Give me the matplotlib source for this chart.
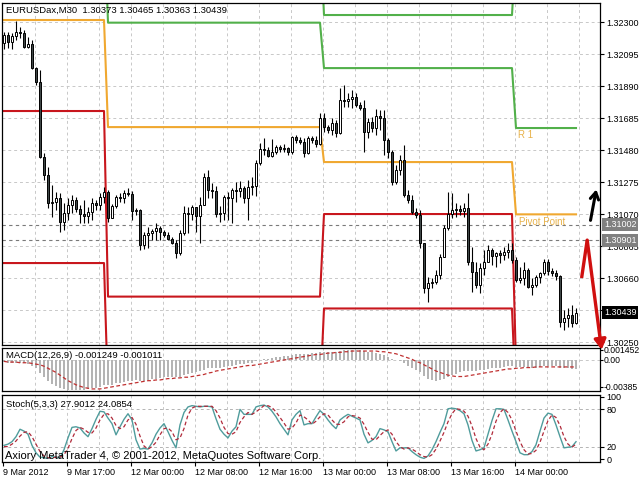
import numpy as np
import matplotlib.pyplot as plt
from matplotlib import transforms

plt.rcParams['font.family'] = ['Liberation Sans', 'DejaVu Sans']

# --- values (EURUSDax M30) ---
title_text = "EURUSDax,M30  1.30373 1.30465 1.30363 1.30439"
macd_text = "MACD(12,26,9) -0.001249 -0.001011"
stoch_text = "Stoch(5,3,3) 27.9012 24.0854"
copyright_text = "Axiory MetaTrader 4, \u00a9 2001-2012, MetaQuotes Software Corp."

first_open = 1.32165
close = [
    1.32217, 1.32172, 1.32210, 1.32236, 1.32230, 1.32140, 1.32159, 1.32005,
    1.31916, 1.31435, 1.31320, 1.31140, 1.31147, 1.31173, 1.31019, 1.31076,
    1.31128, 1.31160, 1.31102, 1.31070, 1.31057, 1.31083, 1.31140, 1.31128,
    1.31179, 1.31211, 1.31044, 1.31121, 1.31179, 1.31173, 1.31205, 1.31200,
    1.31089, 1.31096, 1.30871, 1.30935, 1.30948, 1.30961, 1.30980, 1.30955,
    1.30935, 1.30910, 1.30884, 1.30820, 1.30948, 1.31076, 1.31070, 1.31115,
    1.31057, 1.31128, 1.31307, 1.31224, 1.31220, 1.31070, 1.31076, 1.31179,
    1.31173, 1.31224, 1.31220, 1.31237, 1.31173, 1.31243, 1.31249, 1.31397,
    1.31486, 1.31480, 1.31442, 1.31467, 1.31499, 1.31486, 1.31490, 1.31467,
    1.31563, 1.31544, 1.31531, 1.31461, 1.31557, 1.31544, 1.31518, 1.31685,
    1.31627, 1.31608, 1.31653, 1.31589, 1.31800, 1.31794, 1.31805, 1.31820,
    1.31768, 1.31749, 1.31595, 1.31659, 1.31621, 1.31698, 1.31685, 1.31544,
    1.31467, 1.31275, 1.31352, 1.31416, 1.31192, 1.31160, 1.31083, 1.31064,
    1.30884, 1.30596, 1.30628, 1.30634, 1.30679, 1.30795, 1.30980, 1.31070,
    1.31096, 1.31102, 1.31089, 1.31108, 1.30762, 1.30698, 1.30615, 1.30724,
    1.30762, 1.30839, 1.30801, 1.30820, 1.30807, 1.30827, 1.30839, 1.30775,
    1.30647, 1.30660, 1.30711, 1.30602, 1.30615, 1.30666, 1.30692, 1.30762,
    1.30705, 1.30692, 1.30673, 1.30378, 1.30404, 1.30423, 1.30373, 1.30439,
]
high = [
    1.32236, 1.32236, 1.32230, 1.32306, 1.32268, 1.32249, 1.32204, 1.32185,
    1.32012, 1.31992, 1.31461, 1.31371, 1.31256, 1.31211, 1.31205, 1.31140,
    1.31173, 1.31192, 1.31179, 1.31128, 1.31160, 1.31115, 1.31173, 1.31160,
    1.31205, 1.31243, 1.31224, 1.31134, 1.31192, 1.31205, 1.31224, 1.31237,
    1.31217, 1.31108, 1.31102, 1.30955, 1.30987, 1.30974, 1.31012, 1.30993,
    1.30968, 1.30955, 1.30923, 1.30903, 1.30968, 1.31121, 1.31115, 1.31128,
    1.31115, 1.31179, 1.31333, 1.31352, 1.31269, 1.31249, 1.31121, 1.31192,
    1.31211, 1.31237, 1.31275, 1.31281, 1.31250, 1.31288, 1.31307, 1.31416,
    1.31525, 1.31557, 1.31499, 1.31550, 1.31512, 1.31512, 1.31518, 1.31499,
    1.31570, 1.31576, 1.31563, 1.31557, 1.31570, 1.31570, 1.31570, 1.31717,
    1.31717, 1.31640, 1.31685, 1.31672, 1.31877, 1.31896, 1.31845, 1.31864,
    1.31845, 1.31788, 1.31800, 1.31685, 1.31691, 1.31743, 1.31736, 1.31736,
    1.31557, 1.31480, 1.31384, 1.31448, 1.31512, 1.31224, 1.31192, 1.31108,
    1.31096, 1.30884, 1.30666, 1.30660, 1.30711, 1.30814, 1.31000, 1.31211,
    1.31205, 1.31140, 1.31128, 1.31140, 1.31205, 1.30859, 1.30762, 1.30756,
    1.30839, 1.30871, 1.30852, 1.30827, 1.30839, 1.30859, 1.30884, 1.30884,
    1.30795, 1.30730, 1.30762, 1.30724, 1.30660, 1.30679, 1.30698, 1.30782,
    1.30782, 1.30724, 1.30711, 1.30680, 1.30455, 1.30468, 1.30487, 1.30465,
]
low = [
    1.32127, 1.32133, 1.32127, 1.32185, 1.32198, 1.32133, 1.32133, 1.31999,
    1.31896, 1.31429, 1.31288, 1.31108, 1.31051, 1.31096, 1.30955, 1.30968,
    1.31032, 1.31076, 1.31083, 1.31012, 1.31012, 1.31012, 1.31032, 1.31096,
    1.31096, 1.31140, 1.31019, 1.31044, 1.31108, 1.31147, 1.31140, 1.31185,
    1.31032, 1.31064, 1.30839, 1.30846, 1.30852, 1.30903, 1.30903, 1.30903,
    1.30923, 1.30903, 1.30878, 1.30788, 1.30807, 1.30935, 1.30948, 1.31032,
    1.30955, 1.30884, 1.31128, 1.31173, 1.31173, 1.31051, 1.31019, 1.31032,
    1.31032, 1.31012, 1.31147, 1.31179, 1.31140, 1.31032, 1.31192, 1.31185,
    1.31384, 1.31448, 1.31435, 1.31435, 1.31454, 1.31467, 1.31467, 1.31448,
    1.31454, 1.31525, 1.31518, 1.31435, 1.31455, 1.31525, 1.31499, 1.31512,
    1.31595, 1.31589, 1.31576, 1.31563, 1.31582, 1.31755, 1.31755, 1.31749,
    1.31755, 1.31736, 1.31467, 1.31557, 1.31595, 1.31576, 1.31608, 1.31448,
    1.31429, 1.31256, 1.31262, 1.31320, 1.31179, 1.31140, 1.31070, 1.31044,
    1.30852, 1.30564, 1.30506, 1.30596, 1.30622, 1.30654, 1.30795, 1.30968,
    1.31044, 1.31051, 1.31064, 1.31051, 1.30743, 1.30570, 1.30596, 1.30564,
    1.30679, 1.30762, 1.30743, 1.30730, 1.30756, 1.30775, 1.30788, 1.30756,
    1.30634, 1.30628, 1.30615, 1.30596, 1.30551, 1.30602, 1.30628, 1.30679,
    1.30679, 1.30673, 1.30647, 1.30346, 1.30327, 1.30346, 1.30346, 1.30363,
]

# daily pivot levels (bars per day, then one value per day)
day_bars = [26, 54, 48, 16]
pivot_day = [1.32313, 1.31627, 1.31403, 1.31068]
r1_day = [1.33000, 1.32296, 1.32005, 1.31621]
r2_day = [1.33300, 1.32900, 1.32345, 1.32800]
s1_day = [1.31730, 1.30541, 1.31070, 1.30100]
s2_day = [1.30756, 1.29900, 1.30465, 1.29850]

macd = [
    -0.0003, -0.0004, -0.0004, -0.0004, -0.0004, -0.0005, -0.0006, -0.0009,
    -0.0012, -0.0019, -0.0025, -0.0031, -0.0035, -0.0038, -0.0041, -0.0042,
    -0.0043, -0.0043, -0.0043, -0.0043, -0.0043, -0.0042, -0.0041, -0.0040,
    -0.0039, -0.0037, -0.0037, -0.0036, -0.0034, -0.0033, -0.0032, -0.0031,
    -0.0030, -0.0029, -0.0030, -0.0030, -0.0029, -0.0028, -0.0027, -0.0026,
    -0.0025, -0.0025, -0.0025, -0.0025, -0.0024, -0.0022, -0.0020, -0.0019,
    -0.0018, -0.0016, -0.0014, -0.0012, -0.0011, -0.0011, -0.0011, -0.0010,
    -0.0009, -0.0008, -0.0007, -0.0006, -0.0006, -0.0005, -0.0004, -0.0002,
    0.0000, 0.0001, 0.0002, 0.0003, 0.0004, 0.0005, 0.0006, 0.0006,
    0.0007, 0.0008, 0.0009, 0.0009, 0.0009, 0.0010, 0.0010, 0.0011,
    0.0012, 0.0012, 0.0012, 0.0012, 0.0013, 0.0014, 0.0014, 0.00145,
    0.0014, 0.0014, 0.0013, 0.0012, 0.0011, 0.0010, 0.0009, 0.0007,
    0.0005, 0.0002, 0.0000, -0.0002, -0.0005, -0.0008, -0.0011, -0.0014,
    -0.0018, -0.0023, -0.0027, -0.0029, -0.0030, -0.0029, -0.0027, -0.0024,
    -0.0022, -0.0020, -0.0018, -0.0016, -0.0016, -0.0016, -0.0016, -0.0015,
    -0.0014, -0.0013, -0.0012, -0.0011, -0.0011, -0.0010, -0.0009, -0.0009,
    -0.0010, -0.0010, -0.0010, -0.0011, -0.0011, -0.0011, -0.0010, -0.0009,
    -0.0009, -0.0009, -0.0009, -0.0011, -0.0012, -0.0012, -0.0013, -0.001249,
]
signal = [
    -0.0002, -0.0003, -0.0003, -0.0003, -0.0004, -0.0004, -0.0004, -0.0005,
    -0.0006, -0.0007, -0.0009, -0.0012, -0.0015, -0.0018, -0.0022, -0.0026,
    -0.0030, -0.0033, -0.0036, -0.0038, -0.0040, -0.0041, -0.0042, -0.0042,
    -0.0042, -0.0041, -0.0040, -0.0039, -0.0038, -0.0037, -0.0036, -0.0035,
    -0.0034, -0.0033, -0.0032, -0.0031, -0.0030, -0.0030, -0.0029, -0.0029,
    -0.0028, -0.0027, -0.0027, -0.0026, -0.0026, -0.0025, -0.0025, -0.0024,
    -0.0023, -0.0022, -0.0021, -0.0019, -0.0018, -0.0016, -0.0015, -0.0014,
    -0.0013, -0.0012, -0.0011, -0.0010, -0.0009, -0.0008, -0.0008, -0.0007,
    -0.0006, -0.0005, -0.0004, -0.0003, -0.0002, -0.0001, 0.0000, 0.0001,
    0.0002, 0.0003, 0.0004, 0.0005, 0.0006, 0.0007, 0.0008, 0.0008,
    0.0009, 0.0010, 0.0010, 0.0011, 0.0011, 0.0012, 0.0012, 0.0013,
    0.0013, 0.0013, 0.0013, 0.0013, 0.0013, 0.0013, 0.0012, 0.0012,
    0.0011, 0.0010, 0.0009, 0.0007, 0.0005, 0.0003, 0.0001, -0.0002,
    -0.0004, -0.0007, -0.0010, -0.0013, -0.0016, -0.0018, -0.0020, -0.0022,
    -0.0023, -0.0024, -0.0024, -0.0024, -0.0023, -0.0022, -0.0021, -0.0020,
    -0.0019, -0.0018, -0.0017, -0.0016, -0.0015, -0.0014, -0.0013, -0.0013,
    -0.0012, -0.0012, -0.0011, -0.0011, -0.0011, -0.0010, -0.0010, -0.0010,
    -0.0010, -0.0010, -0.0010, -0.0010, -0.0010, -0.0010, -0.0010, -0.001011,
]
stoch_k = [
    22, 24, 28, 36, 48, 45, 40, 22,
    10, 3, 2, 1, 4, 3, 2, 15,
    34, 51, 52, 50, 42, 36, 49, 64,
    77, 76, 66, 57, 39, 52, 64, 73,
    63, 31, 16, 17, 16, 26, 40, 50,
    57, 44, 30, 18, 55, 75, 84, 86,
    85, 84, 85, 85, 84, 65, 48, 40,
    34, 45, 52, 80, 72, 72, 72, 84,
    86, 87, 84, 77, 68, 57, 48, 39,
    63, 72, 78, 55, 57, 57, 68, 78,
    72, 63, 55, 49, 63, 68, 72, 69,
    66, 63, 40, 26, 30, 36, 49, 47,
    44, 28, 13, 18, 18, 18, 12, 7,
    3, 1, 5, 15, 28, 43, 57, 81,
    82, 81, 78, 73, 55, 30, 13, 15,
    18, 40, 62, 81, 81, 80, 63, 45,
    28, 10, 7, 7, 12, 23, 45, 66,
    74, 72, 55, 36, 18, 19, 20, 27.9012,
]
stoch_d = [
    20, 20, 24, 29, 37, 43, 44, 36,
    24, 12, 5, 2, 2, 3, 3, 7,
    17, 33, 46, 51, 48, 43, 42, 50,
    63, 72, 73, 66, 54, 49, 52, 63,
    67, 56, 37, 21, 16, 20, 27, 39,
    49, 50, 44, 31, 34, 49, 71, 82,
    85, 85, 85, 85, 85, 78, 66, 51,
    41, 40, 44, 59, 68, 75, 72, 76,
    81, 86, 86, 83, 76, 67, 58, 48,
    50, 58, 71, 68, 63, 56, 61, 68,
    73, 71, 63, 56, 56, 60, 68, 70,
    69, 66, 56, 43, 32, 31, 38, 44,
    47, 40, 28, 20, 16, 18, 16, 12,
    7, 4, 3, 7, 16, 29, 43, 60,
    73, 81, 80, 77, 69, 53, 33, 19,
    15, 24, 40, 61, 75, 81, 75, 63,
    45, 28, 15, 8, 9, 14, 27, 45,
    62, 71, 67, 54, 36, 24, 19, 24.0854,
]

price_ticks = [1.32300, 1.32095, 1.31890, 1.31685, 1.31480, 1.31275,
               1.31070, 1.30865, 1.30660, 1.30455, 1.30250]
hidden_price_ticks = [1.30455]   # covered by the last price box
macd_ticks = [0.001452, 0.0, -0.00385]
macd_tick_labels = ['0.001452', '0.00', '-0.00385']
stoch_ticks = [100, 80, 20, 0]
time_labels = ['9 Mar 2012', '9 Mar 17:00', '12 Mar 00:00', '12 Mar 08:00',
               '12 Mar 16:00', '13 Mar 00:00', '13 Mar 08:00', '13 Mar 16:00',
               '14 Mar 00:00']
time_label_bars = [0, 16, 32, 48, 64, 80, 96, 112, 128]
level_lines = [1.31002, 1.30901]
last_price = 1.30439

# hand drawn arrows on the right edge (bar index, price)
black_arrow = [(146.5, 1.31012), (148.2, 1.31245)]
red_arrow = [(144.4, 1.30660), (145.8, 1.30903), (149.4, 1.30200)]

ORANGE = '#f0a830'
GREEN = '#52b04a'
RED = '#c8161d'
GRID = '#c8c8c8'
DASH = (0, (3, 3))

fig = plt.figure(figsize=(6.4, 4.8), dpi=100)
ax = fig.add_axes([2 / 640, 135 / 480, 598 / 640, 342 / 480])
ax2 = fig.add_axes([2 / 640, 89 / 480, 598 / 640, 43 / 480])
ax3 = fig.add_axes([2 / 640, 18 / 480, 598 / 640, 67 / 480])

n = len(close)
x = np.arange(n)
c = np.array(close)
o = np.array([first_open] + close[:-1])
h = np.array(high)
l = np.array(low)

for a in (ax, ax2, ax3):
    a.set_xlim(-0.5, 149)
    for gx in np.arange(7.75, 145, 8):
        a.axvline(gx, color=GRID, lw=0.7, ls=DASH, zorder=0)
    for s in a.spines.values():
        s.set_linewidth(0.9)
    a.yaxis.tick_right()
    a.tick_params(axis='y', direction='out', length=3, width=0.8,
                  labelsize=6.5, pad=1.5)
    a.tick_params(axis='x', bottom=False, labelbottom=False)

# ---- main price window ----
ax.set_ylim(1.30231, 1.32422)
ax.set_yticks(price_ticks)
ax.set_yticklabels(['' if p in hidden_price_ticks else f'{p:.5f}'
                    for p in price_ticks])
for p in price_ticks:
    ax.axhline(p, color=GRID, lw=0.7, ls=DASH, zorder=0)
for p in level_lines:
    ax.axhline(p, color='#7a7a7a', lw=0.8, ls=DASH, zorder=1)

for vals, col in [(r2_day, GREEN), (r1_day, GREEN), (pivot_day, ORANGE),
                  (s1_day, RED), (s2_day, RED)]:
    ax.plot(x, np.repeat(vals, day_bars), color=col, lw=1.5, zorder=2)

up = c >= o
body_lo = np.minimum(o, c)
body_h = np.maximum(np.abs(c - o), 0.000015)
ax.vlines(x, l, h, color='black', lw=0.8, zorder=3)
ax.bar(x[up], body_h[up], bottom=body_lo[up], width=0.62, facecolor='white',
       edgecolor='black', linewidth=0.7, zorder=4)
ax.bar(x[~up], body_h[~up], bottom=body_lo[~up], width=0.62,
       facecolor='#3f4747', edgecolor='black', linewidth=0.7, zorder=4)

ax.text(128.6, 1.31576, 'R 1', color='#e8b24a', fontsize=7, va='center')
ax.text(128.7, 1.31019, 'Pivot Point', color='#e8b24a', fontsize=7,
        va='center')
ax.text(4 / 598, 1 - 3 / 342, title_text, transform=ax.transAxes,
        ha='left', va='top', fontsize=6.8)

blend = transforms.blended_transform_factory(ax.transAxes, ax.transData)
for p in level_lines:
    ax.text(1.0067, p, f'{p:.5f}', transform=blend, ha='left', va='center',
            fontsize=6.5, color='white', clip_on=False, zorder=6,
            bbox=dict(boxstyle='square,pad=0.2', fc='#808080', ec='none'))
ax.text(1.0067, last_price, f'{last_price:.5f}', transform=blend, ha='left',
        va='center', fontsize=6.5, color='white', clip_on=False, zorder=6,
        bbox=dict(boxstyle='square,pad=0.2', fc='black', ec='none'))

# arrows
ax.annotate('', xy=black_arrow[1], xytext=black_arrow[0],
            arrowprops=dict(arrowstyle='->,head_length=0.5,head_width=0.3',
                            color='black', lw=2.2),
            annotation_clip=False, zorder=7)
ax.plot([p[0] for p in red_arrow[:2]], [p[1] for p in red_arrow[:2]],
        color='#d01010', lw=2.4, clip_on=False, zorder=7,
        solid_capstyle='butt')
ax.annotate('', xy=red_arrow[2], xytext=red_arrow[1],
            arrowprops=dict(arrowstyle='-|>,head_length=0.6,head_width=0.35',
                            color='#d01010', lw=2.4, shrinkA=0, shrinkB=0),
            annotation_clip=False, zorder=7)

# ---- MACD window ----
ax2.set_ylim(-0.0045, 0.00174)
ax2.bar(x, macd, width=0.5, color='#b4b4b4', zorder=2)
ax2.plot(x, signal, color='#c03030', lw=0.9, ls=(0, (3, 2)), zorder=3)
ax2.axhline(0, color=GRID, lw=0.7, ls=DASH, zorder=0)
ax2.set_yticks(macd_ticks)
ax2.set_yticklabels(macd_tick_labels)
ax2.tick_params(axis='y', labelsize=6.2, pad=0.5, length=2)
ax2.text(4 / 598, 0.94, macd_text, transform=ax2.transAxes, ha='left',
         va='top', fontsize=6.8)

# ---- Stochastic window ----
ax3.set_ylim(-4.8, 103.2)
ax3.axhline(80, color='#b4b4b4', lw=0.7, ls=DASH, zorder=0)
ax3.axhline(20, color='#b4b4b4', lw=0.7, ls=DASH, zorder=0)
ax3.plot(x, stoch_k, color='#4f9c9c', lw=1.0, zorder=3)
ax3.plot(x, stoch_d, color='#b02a3a', lw=0.9, ls=(0, (3, 2)), zorder=3)
ax3.set_yticks(stoch_ticks)
ax3.set_yticklabels([str(t) for t in stoch_ticks])
ax3.text(4 / 598, 0.93, stoch_text, transform=ax3.transAxes, ha='left',
         va='top', fontsize=6.8)
ax3.text(3 / 598, 0.09, copyright_text, transform=ax3.transAxes, ha='left',
         va='center', fontsize=8, zorder=5)

ax3.set_xticks([b - 0.25 for b in time_label_bars])
ax3.set_xticklabels(time_labels, ha='left')
ax3.tick_params(axis='x', bottom=True, labelbottom=True, direction='out',
                length=3, width=0.8, labelsize=6.5, pad=1)

fig.savefig('out.png', dpi=100)
